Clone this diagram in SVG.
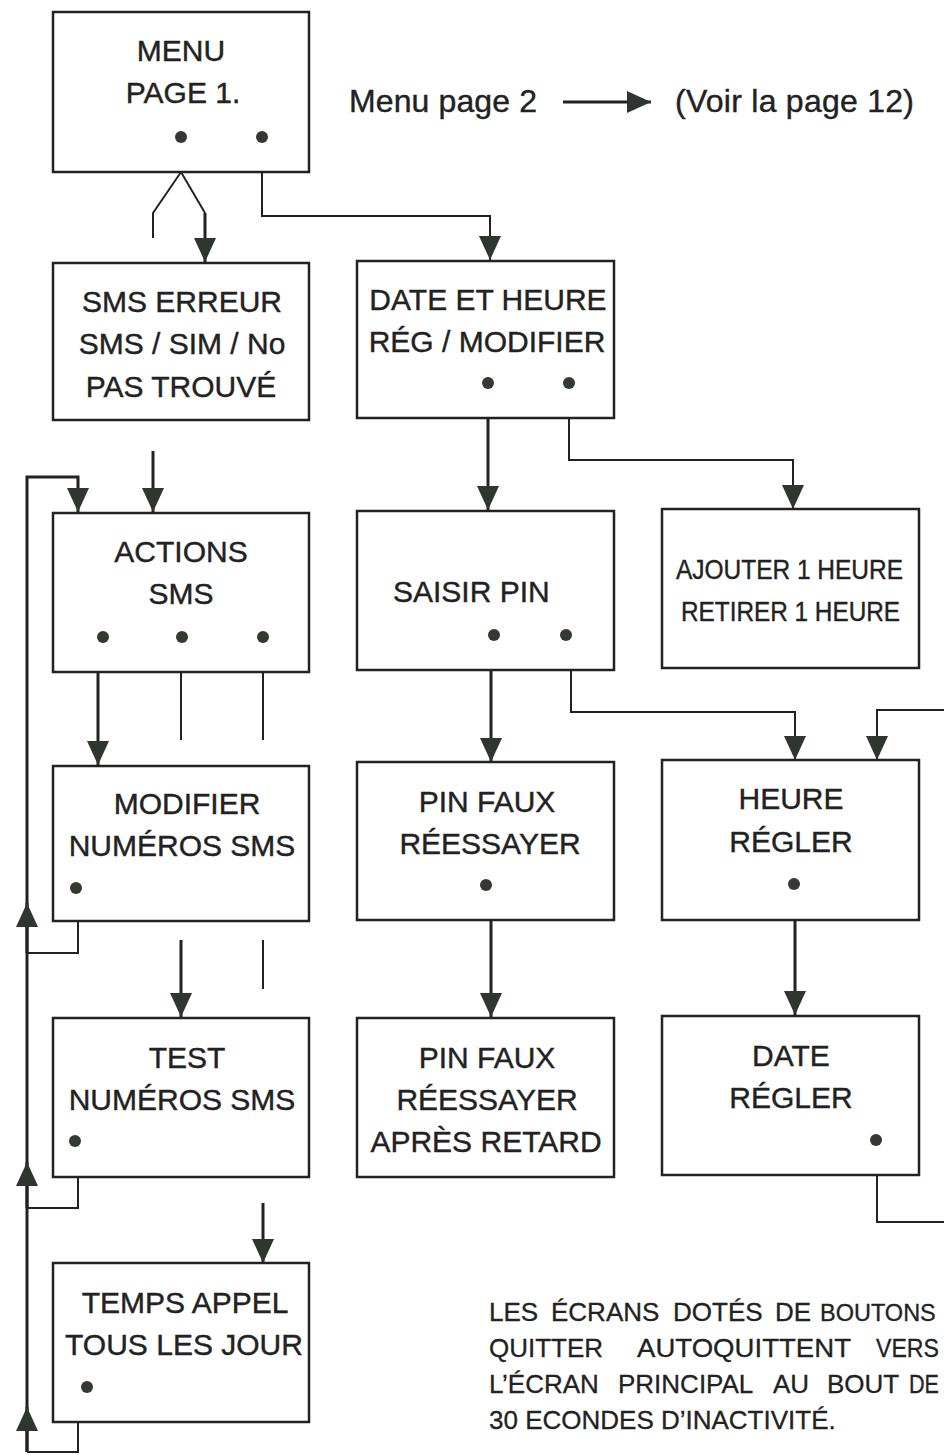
<svg xmlns="http://www.w3.org/2000/svg" width="944" height="1455" viewBox="0 0 944 1455">
<style>
.box{fill:#fff;stroke:#222;stroke-width:2.5}
.t{font-family:"Liberation Sans",Arial,sans-serif;font-size:30px;fill:#222;stroke:#222;stroke-width:0.4;text-anchor:middle}
.n{font-family:"Liberation Sans",Arial,sans-serif;font-size:26px;fill:#222;stroke:#222;stroke-width:0.3}
.dot{fill:#333a33}
.c{fill:none;stroke:#222;stroke-width:2}
.k{fill:none;stroke:#222;stroke-width:3}
</style>
<defs>
<marker id="ah" viewBox="0 0 24 22" refX="24" refY="11" markerWidth="24" markerHeight="22" markerUnits="userSpaceOnUse" orient="auto">
<path d="M0,0 L24,11 L0,22 z" fill="#2f362f"/>
</marker>
</defs>
<rect width="944" height="1455" fill="#fff"/>

<g id="connectors">
<polyline class="c" points="153,238 153,213 181,172 205,213"/>
<polyline class="k" points="205,213 205,262" marker-end="url(#ah)"/>
<polyline class="c" points="262,172 262,216 490,216 490,260" marker-end="url(#ah)"/>
<line class="k" x1="563" y1="102" x2="651" y2="102" marker-end="url(#ah)"/>
<line class="k" x1="153" y1="451" x2="153" y2="512" marker-end="url(#ah)"/>
<polyline class="k" points="27,1452 27,477 78,477 78,512" marker-end="url(#ah)"/>
<line class="k" x1="488" y1="418" x2="488" y2="510" marker-end="url(#ah)"/>
<polyline class="c" points="569,418 569,460 793,460 793,509" marker-end="url(#ah)"/>
<line class="k" x1="98" y1="672" x2="98" y2="765" marker-end="url(#ah)"/>
<line class="c" x1="181" y1="672" x2="181" y2="740"/>
<line class="c" x1="263" y1="672" x2="263" y2="740"/>
<line class="k" x1="491" y1="670" x2="491" y2="762" marker-end="url(#ah)"/>
<polyline class="c" points="571,670 571,712 795,712 795,760" marker-end="url(#ah)"/>
<polyline class="c" points="944,710 877,710 877,760" marker-end="url(#ah)"/>
<polyline class="c" points="78,921 78,953 27,953"/>
<line class="k" x1="27" y1="953" x2="27" y2="903" marker-end="url(#ah)"/>
<polyline class="c" points="78,1177 78,1208 27,1208"/>
<line class="k" x1="27" y1="1208" x2="27" y2="1162" marker-end="url(#ah)"/>
<polyline class="c" points="78,1422 78,1452 27,1452"/>
<line class="k" x1="27" y1="1452" x2="27" y2="1407" marker-end="url(#ah)"/>
<line class="k" x1="181" y1="940" x2="181" y2="1017" marker-end="url(#ah)"/>
<line class="c" x1="263" y1="940" x2="263" y2="989"/>
<line class="k" x1="491" y1="920" x2="491" y2="1017" marker-end="url(#ah)"/>
<line class="k" x1="795" y1="920" x2="795" y2="1015" marker-end="url(#ah)"/>
<polyline class="c" points="877,1175 877,1222 944,1222"/>
<line class="k" x1="263" y1="1203" x2="263" y2="1263" marker-end="url(#ah)"/>
</g>

<g id="menu1">
<rect class="box" x="53" y="12" width="256" height="160"/>
<text class="t" x="181" y="61">MENU</text>
<text class="t" x="183" y="103">PAGE 1.</text>
<circle class="dot" cx="181" cy="137" r="6"/>
<circle class="dot" cx="262" cy="137" r="6"/>
</g>

<g id="menu2-note">
<text class="t" x="349" y="112" style="text-anchor:start;font-size:32px" textLength="188">Menu page 2</text>
<text class="t" x="675" y="112" style="text-anchor:start;font-size:32px" textLength="239">(Voir la page 12)</text>
</g>

<g id="sms-erreur">
<rect class="box" x="53" y="263" width="256" height="157"/>
<text class="t" x="182" y="312">SMS ERREUR</text>
<text class="t" x="182" y="354">SMS / SIM / No</text>
<text class="t" x="181" y="397">PAS TROUVÉ</text>
</g>

<g id="date-heure">
<rect class="box" x="357" y="261" width="257" height="157"/>
<text class="t" x="488" y="310">DATE ET HEURE</text>
<text class="t" x="487" y="352">RÉG / MODIFIER</text>
<circle class="dot" cx="488" cy="383" r="6"/>
<circle class="dot" cx="569" cy="383" r="6"/>
</g>

<g id="actions-sms">
<rect class="box" x="53" y="513" width="256" height="159"/>
<text class="t" x="181" y="562">ACTIONS</text>
<text class="t" x="181" y="604">SMS</text>
<circle class="dot" cx="103" cy="637" r="6"/>
<circle class="dot" cx="182" cy="637" r="6"/>
<circle class="dot" cx="263" cy="637" r="6"/>
</g>

<g id="saisir-pin">
<rect class="box" x="357" y="511" width="257" height="159"/>
<text class="t" x="393" y="602" style="text-anchor:start">SAISIR PIN</text>
<circle class="dot" cx="494" cy="635" r="6"/>
<circle class="dot" cx="566" cy="635" r="6"/>
</g>

<g id="ajouter">
<rect class="box" x="662" y="509" width="257" height="159"/>
<text class="t" x="676" y="579" style="text-anchor:start;font-size:28px" textLength="227" lengthAdjust="spacingAndGlyphs">AJOUTER 1 HEURE</text>
<text class="t" x="681" y="621" style="text-anchor:start;font-size:28px" textLength="219" lengthAdjust="spacingAndGlyphs">RETIRER 1 HEURE</text>
</g>

<g id="modifier-numeros">
<rect class="box" x="53" y="766" width="256" height="155"/>
<text class="t" x="187" y="814">MODIFIER</text>
<text class="t" x="182" y="856">NUMÉROS SMS</text>
<circle class="dot" cx="76" cy="888" r="6"/>
</g>

<g id="pin-faux">
<rect class="box" x="357" y="762" width="257" height="158"/>
<text class="t" x="487" y="812">PIN FAUX</text>
<text class="t" x="490" y="854">RÉESSAYER</text>
<circle class="dot" cx="486" cy="885" r="6"/>
</g>

<g id="heure-regler">
<rect class="box" x="662" y="760" width="257" height="160"/>
<text class="t" x="791" y="809">HEURE</text>
<text class="t" x="791" y="852">RÉGLER</text>
<circle class="dot" cx="794" cy="884" r="6"/>
</g>

<g id="test-numeros">
<rect class="box" x="53" y="1018" width="256" height="159"/>
<text class="t" x="187" y="1068">TEST</text>
<text class="t" x="182" y="1110">NUMÉROS SMS</text>
<circle class="dot" cx="75" cy="1141" r="6"/>
</g>

<g id="pin-faux-retard">
<rect class="box" x="357" y="1018" width="257" height="159"/>
<text class="t" x="487" y="1068">PIN FAUX</text>
<text class="t" x="487" y="1110">RÉESSAYER</text>
<text class="t" x="486" y="1152">APRÈS RETARD</text>
</g>

<g id="date-regler">
<rect class="box" x="662" y="1016" width="257" height="159"/>
<text class="t" x="791" y="1066">DATE</text>
<text class="t" x="791" y="1108">RÉGLER</text>
<circle class="dot" cx="876" cy="1140" r="6"/>
</g>

<g id="temps-appel">
<rect class="box" x="53" y="1263" width="256" height="159"/>
<text class="t" x="185" y="1313">TEMPS APPEL</text>
<text class="t" x="184" y="1355">TOUS LES JOUR</text>
<circle class="dot" cx="87" cy="1387" r="6"/>
</g>

<g id="footnote">
<text class="n" x="489" y="1321">LES</text>
<text class="n" x="551" y="1321">ÉCRANS</text>
<text class="n" x="673" y="1321">DOTÉS</text>
<text class="n" x="775" y="1321">DE</text>
<text class="n" x="820" y="1321" style="font-size:23.5px">BOUTONS</text>
<text class="n" x="489" y="1357">QUITTER</text>
<text class="n" x="637" y="1357" textLength="214" lengthAdjust="spacingAndGlyphs">AUTOQUITTENT</text>
<text class="n" x="876" y="1357" textLength="63" lengthAdjust="spacingAndGlyphs">VERS</text>
<text class="n" x="489" y="1393">L’ÉCRAN</text>
<text class="n" x="618" y="1393">PRINCIPAL</text>
<text class="n" x="773" y="1393">AU</text>
<text class="n" x="827" y="1393">BOUT</text>
<text class="n" x="909" y="1393" textLength="30" lengthAdjust="spacingAndGlyphs">DE</text>
<text class="n" x="489" y="1429">30 ECONDES D’INACTIVITÉ.</text>
</g>
</svg>
